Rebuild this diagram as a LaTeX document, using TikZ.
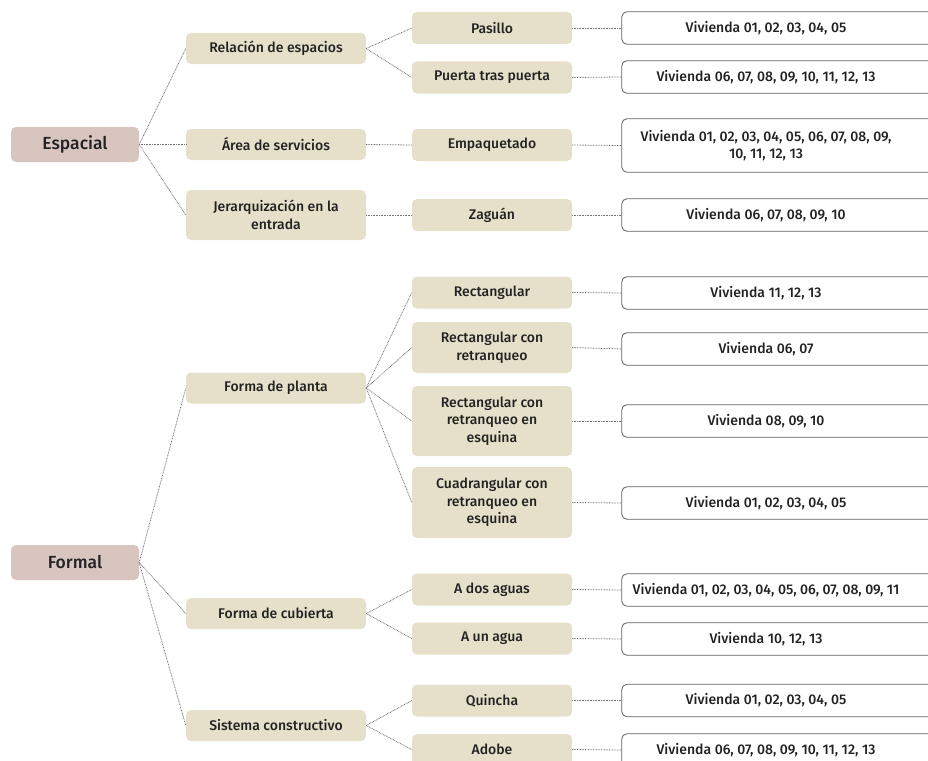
\documentclass[tikz,border=0pt]{standalone}
\usepackage{fontspec}
\setmainfont{Fira Sans}[UprightFont={* Medium}, BoldFont={* SemiBold}]
\definecolor{pinkc}{HTML}{D8C5C0}
\definecolor{beige}{HTML}{E6DFC9}
\definecolor{txt}{HTML}{222222}
\begin{document}
\begin{tikzpicture}[
 x=1pt, y=-1pt,
 base/.style={rounded corners=5pt, align=center, inner sep=2pt, font=\fontsize{14}{17.5}\selectfont, text=txt},
 lone/.style={base, fill=pinkc, minimum width=128pt, minimum height=35pt, font=\fontsize{17.5}{20}\selectfont},
 ltwo/.style={base, fill=beige, minimum width=180pt, minimum height=31pt},
 lthree/.style={base, fill=beige, minimum width=160pt, minimum height=32pt},
 lfour/.style={base, minimum width=288pt, minimum height=32pt},
 link/.style={draw=gray!90!black, line width=0.8pt, dash pattern=on 0.8pt off 0.8pt},
 vframe/.style={draw=gray!75!black, line width=0.8pt, rounded corners=5pt}
]
\useasboundingbox (0,0) rectangle (928,760);
\clip (0,0) rectangle (928,760);

% level 1
\node[lone] (esp) at (75,144.5) {Espacial};
\node[lone] (form) at (75,562.5) {Formal};

% level 2
\node[ltwo] (rel) at (276,48.5) {Relación de espacios};
\node[ltwo] (area) at (276,144.5) {Área de servicios};
\node[ltwo, minimum height=50pt] (jer) at (276,215) {Jerarquización en la\\entrada};
\node[ltwo] (plan) at (276,388) {Forma de planta};
\node[ltwo] (cub) at (276,613.5) {Forma de cubierta};
\node[ltwo] (sis) at (276,725.5) {Sistema constructivo};

% level 3
\node[lthree] (pas) at (492,28) {Pasillo};
\node[lthree] (pue) at (492,77.5) {Puerta tras puerta};
\node[lthree] (emp) at (492,145) {Empaquetado};
\node[lthree] (zag) at (492,215) {Zaguán};
\node[lthree] (rect) at (492,292.5) {Rectangular};
\node[lthree, minimum height=51pt] (rcr) at (492,347.5) {Rectangular con\\retranqueo};
\node[lthree, minimum height=70pt] (rcre) at (492,421) {Rectangular con\\retranqueo en\\esquina};
\node[lthree, minimum height=71pt] (cua) at (492,502.5) {Cuadrangular con\\retranqueo en\\esquina};
\node[lthree] (dos) at (492,589.5) {A dos aguas};
\node[lthree] (un) at (492,638.5) {A un agua};
\node[lthree] (qui) at (492,700.5) {Quincha};
\node[lthree, minimum height=31pt] (ado) at (492,749.5) {Adobe};

% level 4
\node[lfour] (vpas) at (766,28) {Vivienda 01, 02, 03, 04, 05};
\node[lfour] (vpue) at (766,77) {Vivienda 06, 07, 08, 09, 10, 11, 12, 13};
\node[lfour, minimum height=53pt] (vemp) at (766,145.5) {Vivienda 01, 02, 03, 04, 05, 06, 07, 08, 09,\\10, 11, 12, 13};
\node[lfour] (vzag) at (766,215) {Vivienda 06, 07, 08, 09, 10};
\node[lfour] (vrect) at (766,293) {Vivienda 11, 12, 13};
\node[lfour] (vrcr) at (766,349) {Vivienda 06, 07};
\node[lfour] (vrcre) at (766,421) {Vivienda 08, 09, 10};
\node[lfour] (vcua) at (766,503) {Vivienda 01, 02, 03, 04, 05};
\node[lfour] (vdos) at (766,590) {Vivienda 01, 02, 03, 04, 05, 06, 07, 08, 09, 11};
\node[lfour] (vun) at (766,639) {Vivienda 10, 12, 13};
\node[lfour] (vqui) at (766,700.5) {Vivienda 01, 02, 03, 04, 05};
\node[lfour] (vado) at (766,750) {Vivienda 06, 07, 08, 09, 10, 11, 12, 13};

\foreach \n in {vpas,vpue,vemp,vzag,vrect,vrcr,vrcre,vcua,vdos,vun,vqui,vado}
  \draw[vframe] (\n.north west) rectangle ([xshift=40pt]\n.south east);

% connectors
\foreach \c in {rel,area,jer} \draw[link] (esp.east) -- (\c.west);
\foreach \c in {plan,cub,sis} \draw[link] (form.east) -- (\c.west);
\foreach \c in {pas,pue} \draw[link] (rel.east) -- (\c.west);
\draw[link] (area.east) -- (emp.west);
\draw[link] (jer.east) -- (zag.west);
\foreach \c in {rect,rcr,rcre,cua} \draw[link] (plan.east) -- (\c.west);
\foreach \c in {dos,un} \draw[link] (cub.east) -- (\c.west);
\foreach \c in {qui,ado} \draw[link] (sis.east) -- (\c.west);
\foreach \a/\b in {pas/vpas,pue/vpue,emp/vemp,zag/vzag,rect/vrect,rcr/vrcr,rcre/vrcre,cua/vcua,dos/vdos,un/vun,qui/vqui,ado/vado}
  \draw[link] (\a.east) -- (\b.west);
\end{tikzpicture}
\end{document}
